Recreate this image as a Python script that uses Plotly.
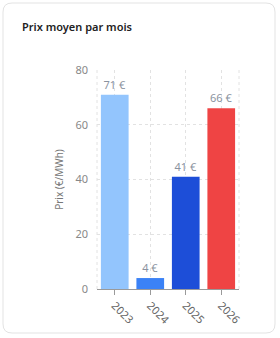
import plotly.graph_objects as go

years = ["2023", "2024", "2025", "2026"]
prices = [71, 4, 41, 66]
labels = ["71 €", "4 €", "41 €", "66 €"]
colors = ["#93c5fd", "#3b82f6", "#1d4ed8", "#ef4444"]

W, H = 280, 338
L, R, T, B = 97, 41, 70, 49
pw, ph = W - L - R, H - T - B

def px(x):
    return (x - L) / pw

def py(y):
    return (H - B - y) / ph

fig = go.Figure()
fig.add_trace(go.Bar(
    x=years, y=prices, marker=dict(color=colors, line=dict(width=0)),
    text=labels, textposition="outside", cliponaxis=False,
    textfont=dict(color="#8b93a0", size=11, family="Noto Sans"),
    width=0.78, hoverinfo="skip",
))

# card with rounded corners
x0, x1, y0, y1, r = 3, 275, 3, 333, 9
path = (f"M {px(x0+r)} {py(y0)} L {px(x1-r)} {py(y0)} Q {px(x1)} {py(y0)} {px(x1)} {py(y0+r)} "
        f"L {px(x1)} {py(y1-r)} Q {px(x1)} {py(y1)} {px(x1-r)} {py(y1)} "
        f"L {px(x0+r)} {py(y1)} Q {px(x0)} {py(y1)} {px(x0)} {py(y1-r)} "
        f"L {px(x0)} {py(y0+r)} Q {px(x0)} {py(y0)} {px(x0+r)} {py(y0)} Z")
fig.add_shape(type="path", path=path, xref="paper", yref="paper",
              line=dict(color="#e3e3e3", width=1), fillcolor="white", layer="below")

# vertical dashed borders of plot area
for xv in (0, 1):
    fig.add_shape(type="line", xref="paper", yref="paper", x0=xv, x1=xv, y0=0, y1=1,
                  line=dict(color="#e2e2e2", width=1, dash="3px,3px"), layer="below")

fig.add_annotation(text="Prix moyen par mois", xref="paper", yref="paper",
                   x=px(20), y=py(27), xanchor="left", yanchor="middle", showarrow=False,
                   font=dict(size=11, color="#222222", family="Noto Sans", weight=600))

fig.update_layout(
    width=W, height=H, margin=dict(l=L, r=R, t=T, b=B),
    paper_bgcolor="white", plot_bgcolor="rgba(0,0,0,0)",
    showlegend=False, bargap=0.22,
    font=dict(family="Noto Sans", color="#888888", size=11),
)
fig.update_xaxes(
    showgrid=True, gridcolor="#e2e2e2", griddash="3px,3px", gridwidth=1,
    showline=True, linecolor="#9a9a9a", linewidth=1,
    ticks="outside", ticklen=5, tickcolor="#9a9a9a",
    tickangle=45, tickfont=dict(size=11, color="#666666"),
)
fig.update_yaxes(
    range=[0, 80], dtick=20, showgrid=True, gridcolor="#e2e2e2", griddash="3px,3px",
    zeroline=False, showline=False, ticklabelstandoff=8,
    tickfont=dict(size=11, color="#888888"),
    title=dict(text="Prix (€/MWh)", font=dict(size=10, color="#777777"), standoff=9),
)

fig.write_html("out.html")
